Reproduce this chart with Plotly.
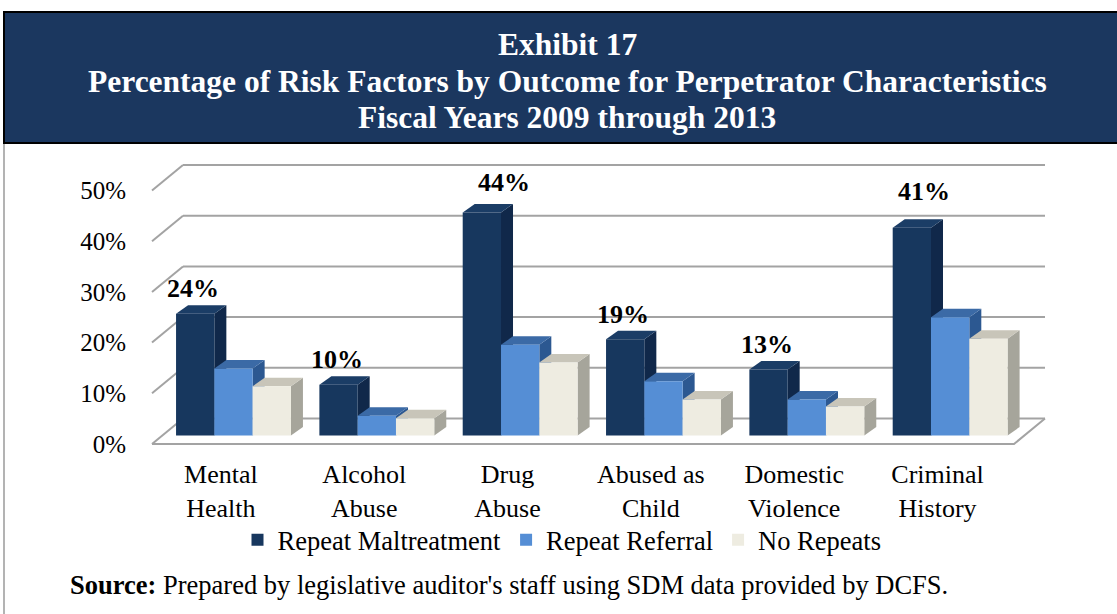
import plotly.graph_objects as go

# ---- data -------------------------------------------------------------
categories = ["Mental<br>Health", "Alcohol<br>Abuse", "Drug<br>Abuse",
              "Abused as<br>Child", "Domestic<br>Violence", "Criminal<br>History"]
repeat_maltreatment = [24, 10, 44, 19, 13, 41]
repeat_referral = [13.2, 3.9, 17.9, 10.7, 7.1, 23.3]
no_repeats = [9.7, 3.4, 14.4, 7.1, 5.7, 19.1]
series_names = ["Repeat Maltreatment", "Repeat Referral", "No Repeats"]
y_ticks = [0, 10, 20, 30, 40, 50]

series_values = [repeat_maltreatment, repeat_referral, no_repeats]

# ---- styling ----------------------------------------------------------
SERIF = "Liberation Serif, Times New Roman, serif"
FRONT = ["#17375E", "#558ED5", "#EEECE1"]
SIDE = ["#10284A", "#2C5891", "#A6A59B"]
TOP = ["#1B3D66", "#3B6AA6", "#C8C5B9"]
GRID = "#A3A3A3"

# ---- page geometry (pixels) -------------------------------------------
W, H = 1117, 614
L, R, T, B = 140, 1052, 150, 452      # plot area
PITCH = 143.33                        # px per category
CX0 = 220.9                           # px of first category centre
PX = 5.07                             # px per percentage point
F0 = 444                              # px row of 0% on the floor's front edge

x_range = [(L - CX0) / PITCH, (R - CX0) / PITCH]
y_range = [(F0 - B) / PX, (F0 - T) / PX]


def ux(px):
    return px / PITCH


def uy(px):
    return px / PX


def xp(p):
    return (p - L) / (R - L)


def yp(q):
    return (B - q) / (B - T)


# 3-D look: bars stand part-way back on the floor, walls are deeper
BAR_W = ux(38.3)
BAR_SHIFT = ux(12.6)
BAR_LIFT = uy(8.5)
BAR_DX, BAR_DY = ux(12), uy(8.5)
WALL_DX, WALL_DY = ux(31), uy(25.5)
WALL_FRONT_LEFT = ux(152 - CX0)
WALL_FRONT_RIGHT = ux(1014 - CX0)

fig = go.Figure()

offsets = [-1.5 * BAR_W + BAR_SHIFT + i * BAR_W for i in range(3)]
for i, (name, vals) in enumerate(zip(series_names, series_values)):
    fig.add_trace(go.Bar(
        x=categories, y=vals, base=BAR_LIFT, name=name,
        width=BAR_W, offset=offsets[i],
        marker=dict(color=FRONT[i], line=dict(width=0)),
        hovertemplate="%{x}: %{y}%<extra>" + name + "</extra>",
    ))

shapes = []

# content frame and header band
shapes.append(dict(type="rect", xref="paper", yref="paper",
                   x0=xp(4), x1=xp(1135), y0=yp(660), y1=yp(143),
                   line=dict(color="#9A9A9A", width=1.5), fillcolor="rgba(0,0,0,0)"))
shapes.append(dict(type="rect", xref="paper", yref="paper",
                   x0=xp(4), x1=xp(1135), y0=yp(143), y1=yp(12),
                   line=dict(color="#000000", width=2), fillcolor="#1B375F"))

# back wall grid lines with their left-hand diagonals
for v in y_ticks:
    yb = v + WALL_DY
    shapes.append(dict(type="line", xref="x", yref="y", layer="below",
                       x0=WALL_FRONT_LEFT + WALL_DX, x1=WALL_FRONT_RIGHT + WALL_DX,
                       y0=yb, y1=yb, line=dict(color=GRID, width=2)))
    shapes.append(dict(type="line", xref="x", yref="y", layer="below",
                       x0=WALL_FRONT_LEFT, x1=WALL_FRONT_LEFT + WALL_DX,
                       y0=v, y1=yb, line=dict(color=GRID, width=2)))

# floor front and right edges
shapes.append(dict(type="path", xref="x", yref="y", layer="below",
                   path=f"M{WALL_FRONT_LEFT},0 L{WALL_FRONT_RIGHT},0 "
                        f"L{WALL_FRONT_RIGHT + WALL_DX},{WALL_DY}",
                   line=dict(color=GRID, width=2)))

# side and top faces of each bar, drawn left to right
for j in range(len(categories)):
    for i, vals in enumerate(series_values):
        x0 = j + offsets[i]
        x1 = x0 + BAR_W
        yb = BAR_LIFT
        yt = BAR_LIFT + vals[j]
        shapes.append(dict(
            type="path", xref="x", yref="y", layer="below",
            path=(f"M{x1},{yb} L{x1 + BAR_DX},{yb + BAR_DY} "
                  f"L{x1 + BAR_DX},{yt + BAR_DY} L{x1},{yt} Z"),
            fillcolor=SIDE[i], line=dict(width=0)))
        shapes.append(dict(
            type="path", xref="x", yref="y", layer="below",
            path=(f"M{x0},{yt} L{x0 + BAR_DX},{yt + BAR_DY} "
                  f"L{x1 + BAR_DX},{yt + BAR_DY} L{x1},{yt} Z"),
            fillcolor=TOP[i], line=dict(width=0)))

annotations = []

# header text
for text, row in [("Exhibit 17", 45),
                  ("Percentage of Risk Factors by Outcome for Perpetrator Characteristics", 81),
                  ("Fiscal Years 2009 through 2013", 117)]:
    annotations.append(dict(xref="paper", yref="paper", x=xp(567), y=yp(row),
                            text=f"<b>{text}</b>", showarrow=False,
                            xanchor="center", yanchor="middle",
                            font=dict(family=SERIF, size=31.5, color="white")))

# value labels on the Repeat Maltreatment bars
label_nudge = {2: (22, 5), 5: (12, 11)}
dark_centre = offsets[0] + BAR_W / 2
for j, v in enumerate(repeat_maltreatment):
    nx, ny = label_nudge.get(j, (-2, 0))
    annotations.append(dict(xref="x", yref="y", x=j + dark_centre, y=BAR_LIFT + v,
                            text=f"<b>{v}%</b>", showarrow=False,
                            xanchor="center", yanchor="middle",
                            xshift=nx, yshift=25 + ny,
                            font=dict(family=SERIF, size=26, color="black")))

# source note
annotations.append(dict(xref="paper", yref="paper", x=xp(68), y=yp(585),
                        text="<b>Source:</b> Prepared by legislative auditor's staff "
                             "using SDM data provided by DCFS.",
                        showarrow=False, xanchor="left", yanchor="middle",
                        font=dict(family=SERIF, size=26.5, color="black")))

fig.update_layout(
    width=W, height=H,
    margin=dict(l=L, r=W - R, t=T, b=H - B, autoexpand=False),
    paper_bgcolor="white", plot_bgcolor="rgba(0,0,0,0)",
    barmode="overlay",
    shapes=shapes, annotations=annotations,
    font=dict(family=SERIF, color="black"),
    showlegend=True,
    legend=dict(orientation="h", x=xp(562), y=yp(540),
                xanchor="center", yanchor="middle",
                font=dict(family=SERIF, size=26.5, color="black"),
                bgcolor="rgba(0,0,0,0)", itemwidth=30),
    xaxis=dict(type="category", range=x_range, showgrid=False, zeroline=False,
               showline=False, ticks="", ticklabelstandoff=4,
               tickfont=dict(family=SERIF, size=26, color="black"),
               fixedrange=True),
    yaxis=dict(range=y_range, showgrid=False, zeroline=False, showline=False,
               ticks="", tickvals=y_ticks, ticktext=[f"{v}%" for v in y_ticks],
               ticklabelstandoff=13,
               tickfont=dict(family=SERIF, size=25, color="black"),
               fixedrange=True),
)

fig.write_html("out.html")
